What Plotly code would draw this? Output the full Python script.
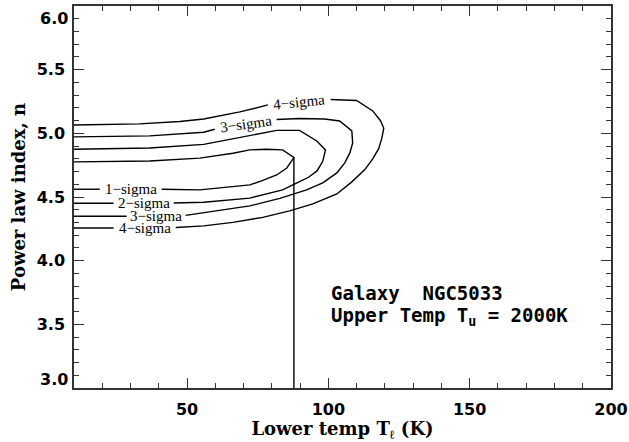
import plotly.graph_objects as go

# Confidence contours in the (lower temperature, power-law index) plane.
# Each contour is an open loop: upper branch left->right, then lower branch right->left.
# None entries leave a break in the line where the contour label sits.
t_1sig = [10, 36.8, 54.5, 66.2, 72.2, 78.2, 83.8, 87.8, 85.3, 81.7, 76.8, 72.2, 54.5, 41.0, None, 19.1, 10]
n_1sig = [4.776, 4.783, 4.805, 4.844, 4.870, 4.875, 4.870, 4.810, 4.728, 4.673, 4.630, 4.595, 4.556, 4.561, None, 4.561, 4.561]

t_2sig = [10, 36.8, 55.9, 68.7, 81.7, 89.8, 95.9, 99.0, 98.0, 96.0, 93.0, 89.8, 83.8, 72.2, 55.9, 45.3, None, 24.0, 10]
n_2sig = [4.875, 4.885, 4.913, 4.965, 5.023, 5.023, 4.940, 4.870, 4.780, 4.705, 4.655, 4.620, 4.556, 4.491, 4.459, 4.453, None, 4.451, 4.451]

t_3sig = [10, 36.8, 55.9, 59.8, None, 81.7, 89.8, 98.7, 104.0, 108.3, 108.6, 107.6, 105.8, 103.0, 98.0, 92.3, 82.8, 72.2, 54.5, 49.5, None, 28.6, 10]
n_3sig = [4.972, 4.980, 5.009, 5.032, None, 5.109, 5.117, 5.113, 5.097, 5.019, 4.925, 4.846, 4.768, 4.689, 4.611, 4.556, 4.489, 4.430, 4.371, 4.356, None, 4.349, 4.349]

t_4sig = [10, 33.2, 47.4, 55.9, 68.7, 78.6, None, 100.8, 110.0, 115.7, 118.5, 119.6, 118.9, 117.8, 115.7, 112.9, 108.3, 103.0, 94.5, 86.3, 76.8, 66.2, 55.9, 46.0, None, 24.0, 10]
n_4sig = [5.066, 5.074, 5.093, 5.113, 5.168, 5.223, None, 5.266, 5.258, 5.176, 5.097, 5.040, 4.960, 4.880, 4.800, 4.715, 4.619, 4.524, 4.446, 4.391, 4.340, 4.301, 4.273, 4.261, None, 4.257, 4.257]

# Best-fit lower temperature marker
best_t = [87.8, 87.8]
best_n = [4.81, 3.0]

# Axis ticks
x_ticks = [50, 100, 150, 200]
y_ticks = [3.0, 3.5, 4.0, 4.5, 5.0, 5.5, 6.0]

# Contour label positions: (text, T, n, angle)
labels = [
    ("1\u2212sigma", 30.0, 4.561, 0),
    ("2\u2212sigma", 34.7, 4.451, 0),
    ("3\u2212sigma", 39.0, 4.349, 0),
    ("4\u2212sigma", 35.0, 4.257, 0),
    ("3\u2212sigma", 70.8, 5.074, -8),
    ("4\u2212sigma", 89.7, 5.250, -6),
]

fig = go.Figure()
for t, n in [(t_1sig, n_1sig), (t_2sig, n_2sig), (t_3sig, n_3sig), (t_4sig, n_4sig), (best_t, best_n)]:
    fig.add_trace(go.Scatter(x=t, y=n, mode="lines", connectgaps=False,
                             line=dict(color="black", width=1.4),
                             showlegend=False, hoverinfo="skip"))

annotations = []
for text, t, n, ang in labels:
    annotations.append(dict(x=t, y=n, text=text, showarrow=False, textangle=ang,
                            font=dict(family="Liberation Serif", size=15, color="black"),
                            xanchor="center", yanchor="middle"))

info_font = dict(family="DejaVu Sans Mono", size=19, color="black", weight="bold")
annotations.append(dict(x=100.1, y=3.745, text="Galaxy  NGC5033", showarrow=False,
                        xanchor="left", yanchor="middle", font=info_font))
annotations.append(dict(x=100.1, y=3.56, text="Upper Temp T<sub>u</sub> = 2000K", showarrow=False,
                        xanchor="left", yanchor="middle", font=info_font))

tick_font = dict(family="DejaVu Sans", size=16, color="black", weight="bold")

# End labels of the n axis are kept inside the frame (top-aligned / bottom-aligned)
y_text = [f"{v:.1f}" for v in y_ticks]
for i, v in enumerate(y_ticks):
    if v in (min(y_ticks), max(y_ticks)):
        top = v == max(y_ticks)
        annotations.append(dict(x=0, xref="paper", y=v, yref="y", text=y_text[i],
                                showarrow=False, xanchor="right", xshift=-4,
                                yanchor="top" if top else "bottom",
                                yshift=-1 if top else -3, font=tick_font))
        y_text[i] = ""

axis_common = dict(showgrid=False, zeroline=False, showline=True, linecolor="#333333",
                   linewidth=1.5, mirror="ticks", ticks="inside", ticklen=10,
                   tickwidth=1.2, tickcolor="#333333", automargin=False,
                   tickfont=tick_font)

fig.update_layout(
    width=629, height=442,
    margin=dict(l=74, r=18, t=6, b=54, autoexpand=False),
    paper_bgcolor="white", plot_bgcolor="white",
    annotations=annotations,
    xaxis=dict(range=[10, 200], tickvals=x_ticks, ticklabeloverflow="allow",
               minor=dict(dtick=10, tick0=0, ticklen=5, ticks="inside", tickcolor="#333333", tickwidth=1.2),
               ticklabelstandoff=6,
               title=dict(text="Lower temp T<sub>\u2113</sub> (K)", standoff=5,
                          font=dict(family="DejaVu Serif", size=18, color="black", weight="bold")),
               **axis_common),
    yaxis=dict(range=[3.0, 6.0], tickvals=y_ticks, ticktext=y_text,
               minor=dict(dtick=0.1, tick0=0, ticklen=5, ticks="inside", tickcolor="#333333", tickwidth=1.2),
               ticklabelstandoff=4,
               title=dict(text="Power law index, n", standoff=6,
                          font=dict(family="DejaVu Serif", size=18, color="black", weight="bold")),
               **axis_common),
)

fig.write_html("out.html")
